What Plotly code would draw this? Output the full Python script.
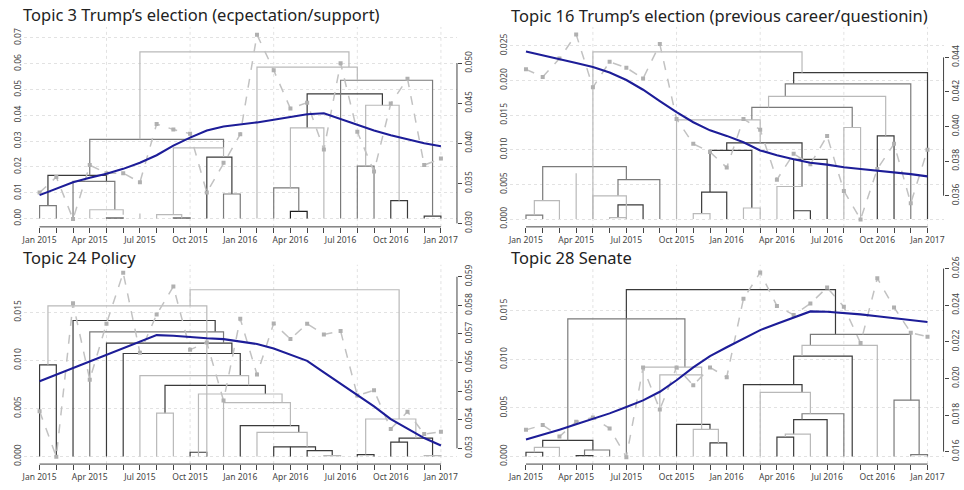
import plotly.graph_objects as go

# ---------------- data ----------------
MONTHS = ["Jan 2015", "Feb 2015", "Mar 2015", "Apr 2015", "May 2015", "Jun 2015",
          "Jul 2015", "Aug 2015", "Sep 2015", "Oct 2015", "Nov 2015", "Dec 2015",
          "Jan 2016", "Feb 2016", "Mar 2016", "Apr 2016", "May 2016", "Jun 2016",
          "Jul 2016", "Aug 2016", "Sep 2016", "Oct 2016", "Nov 2016", "Dec 2016",
          "Jan 2017"]
LABELLED_MONTHS = ["Jan 2015", "Apr 2015", "Jul 2015", "Oct 2015", "Jan 2016",
                   "Apr 2016", "Jul 2016", "Oct 2016", "Jan 2017"]

TITLES = ["Topic 3 Trump’s election (ecpectation/support)",
          "Topic 16 Trump’s election (previous career/questionin)",
          "Topic 24 Policy",
          "Topic 28 Senate"]

# monthly topic proportion (dashed grey) -- right axis
PROP_T3 = [.03384, .03578, .03053, .03727, .03626, .03626, .03513, .04240, .04172, .04119,
           .03384, .03756, .04111, .05356, .04911, .04434, .04507, .03921, .05000, .04143,
           .03646, .04495, .04806, .03727, .03808]
PROP_T16 = [.04331, .04287, .04393, .04533, .04227, .04374, .04340, .04278, .04477, .04044,
            .03900, .03853, .03763, .04044, .03982, .03693, .03843, .03782, .03946, .03628,
            .03463, .03755, .03900, .03557, .03866]
PROP_T24 = [.05430, .05271, .05807, .05540, .05736, .05914, .05634, .05768, .05866, .05645,
            .05670, .05467, .05753, .05558, .05737, .05682, .05736, .05698, .05710, .05485,
            .05503, .05368, .05428, .05350, .05358]
PROP_T28 = [.01719, .01745, .01683, .01763, .01786, .01727, .01570, .02060, .01830, .02060,
            .01963, .02060, .02007, .02435, .02579, .02396, .02347, .02409, .02497, .02391,
            .02193, .02547, .02388, .02250, .02228]

# smoothed trend (blue) -- right axis
TREND_T3 = [.03352, .03430, .03513, .03570, .03618, .03680, .03756, .03850, .03970, .04070,
            .04160, .04210, .04232, .04260, .04293, .04330, .04362, .04374, .04300, .04230,
            .04160, .04100, .04051, .04000, .03962]
TREND_T16 = [.04434, .04413, .04393, .04368, .04345, .04312, .04269, .04213, .04147, .04083,
             .04025, .03978, .03946, .03909, .03862, .03834, .03811, .03791, .03780, .03765,
             .03755, .03746, .03737, .03725, .03712]
TREND_T24 = [.05535, .05558, .05582, .05605, .05627, .05650, .05674, .05696, .05694, .05689,
             .05685, .05682, .05674, .05665, .05649, .05628, .05606, .05566, .05526, .05487,
             .05447, .05402, .05368, .05336, .05310]
TREND_T28 = [.01666, .01692, .01720, .01749, .01777, .01809, .01844, .01880, .01927, .01990,
             .02060, .02122, .02170, .02216, .02264, .02299, .02333, .02366, .02364, .02359,
             .02350, .02340, .02329, .02319, .02308]

# dendrogram merges: (left month, right month, merge height, left child height,
#                     right child height, tone) -- left axis
DEND_T3 = [
    (0, 1, .0050, 0, 0, "mid"), (0.5, 4, .0167, .0050, .0144, "dark"),
    (2, 4.5, .0144, 0, .0034, "mid"), (3, 5, .0034, 0, .0015, "light"),
    (4, 5, .0002, 0, 0, "black"), (3, 11, .0307, .0167, .0274, "mid"),
    (6, 6, .0019, 0, 0, "light"), (6, 18.5, .0646, .0307, .0587, "light"),
    (7, 8.5, .0015, 0, 0, "light"), (8, 9, .0002, 0, 0, "black"),
    (8, 11, .0274, .0015, .0238, "light"), (10, 11.5, .0238, 0, .0095, "dark"),
    (11, 12, .0095, 0, 0, "mid"), (13, 19, .0587, 0, .0536, "light"),
    (18, 23.5, .0536, 0, .0009, "mid"), (16, 20.5, .0483, .0351, .0439, "dark"),
    (15, 17, .0351, .0119, 0, "light"), (14, 15.5, .0119, 0, .0028, "mid"),
    (15, 16, .0028, 0, 0, "black"), (19.5, 21.5, .0439, .0203, .0069, "light"),
    (19, 20, .0203, 0, 0, "mid"), (21, 22, .0069, 0, 0, "dark"),
    (23, 24, .0009, 0, 0, "dark"),
]
DEND_T16 = [
    (0, 1, .00056, 0, 0, "mid"), (0.5, 2, .00266, .00056, 0, "light"),
    (1, 6, .00756, .00266, .0057, "mid"), (3, 3, .0066, 0, 0, "light"),
    (4, 6, .00336, 0, 0, "light"), (5, 6, .0002, 0, 0, "light"),
    (5.5, 7, .00205, .0002, 0, "dark"), (5.5, 8, .0057, .00336, 0, "mid"),
    (4, 16.5, .0241, 0, .0211, "light"), (10, 11, .0008, 0, 0, "light"),
    (10.5, 12, .0039, .0008, 0, "dark"), (11, 13.5, .0099, .0039, .0016, "dark"),
    (12, 16.5, .0110, .0099, .0047, "dark"), (13, 14, .0016, 0, 0, "light"),
    (15, 16.5, .0047, 0, .0086, "light"), (16, 18, .0086, .0012, 0, "dark"),
    (16, 17, .0012, 0, 0, "dark"), (9, 14, .0143, 0, .0110, "light"),
    (13.5, 19.5, .0161, .0143, .0132, "mid"), (19, 20, .0132, 0, 0, "light"),
    (14.5, 21.5, .0177, .0161, .0120, "light"), (21, 22, .0120, 0, 0, "dark"),
    (15.5, 23, .0195, .0177, 0, "mid"), (16, 24, .0211, .0195, 0, "dark"),
]
DEND_T24 = [
    (0, 1, .00953, 0, 0, "dark"), (0.5, 10, .01566, .00953, 0, "light"),
    (2, 10.5, .01414, 0, .01296, "dark"), (3, 11, .01296, 0, .01178, "mid"),
    (4, 11.5, .01178, 0, .01071, "dark"), (5, 12, .01071, 0, .0084, "dark"),
    (6, 12.5, .0084, 0, .0074, "light"), (7.5, 13.5, .0074, .0045, .0065, "dark"),
    (7, 8, .0045, 0, 0, "light"), (9.5, 14.5, .0065, 0, .0056, "light"),
    (11, 15, .0056, 0, .0032, "light"), (12, 15.5, .0032, 0, .0025, "dark"),
    (13, 16, .0025, 0, .0010, "light"), (14, 16.5, .0010, 0, .0006, "dark"),
    (15, 15, .0010, 0, 0, "dark"), (16, 17.5, .0006, 0, .0001, "dark"),
    (17, 18, .0001, 0, 0, "light"), (9, 10, .00044, 0, 0, "dark"),
    (9, 21.5, .01734, .01566, .0039, "light"), (19.5, 22.5, .0039, .0002, .0019, "light"),
    (19, 20, .0002, 0, 0, "dark"), (21.5, 23.5, .0019, .0015, 0, "dark"),
    (21, 22, .0015, 0, 0, "dark"), (23, 24, .0001, 0, 0, "light"),
]
DEND_T28 = [
    (0, 1, .00044, 0, 0, "dark"), (0.5, 2, .00094, .00044, 0, "light"),
    (1, 4, .00167, .00094, .00067, "dark"), (3, 4, .0001, 0, 0, "dark"),
    (3.5, 5, .00067, .0001, 0, "mid"), (2.5, 9.5, .01417, .00167, .0092, "mid"),
    (6, 18.5, .01717, .01417, .01257, "dark"), (6, 6, .01417, 0, 0, "mid"),
    (7, 10.5, .0092, 0, .0084, "light"), (8, 10.5, .0084, 0, .0028, "light"),
    (9, 11, .0033, 0, .0028, "dark"), (10, 11.5, .0028, 0, .0014, "light"),
    (11, 12, .0014, 0, 0, "dark"), (17, 23, .01257, .01144, .0058, "mid"),
    (16.5, 21, .01144, .01034, 0, "light"), (16, 19.5, .01034, .0074, 0, "dark"),
    (13, 16.5, .0074, 0, .0066, "dark"), (14, 17, .0066, 0, .0044, "light"),
    (16.5, 19, .0044, .0038, 0, "mid"), (16, 18, .0038, .0023, 0, "dark"),
    (15.5, 17, .0023, .0020, 0, "light"), (15, 16, .0020, 0, 0, "dark"),
    (22, 23.5, .0058, 0, .0002, "mid"), (23, 24, .0002, 0, 0, "mid"),
]

LEFT_TICKS = [[0, .01, .02, .03, .04, .05, .06, .07],
              [0, .005, .010, .015, .020, .025],
              [0, .005, .010, .015],
              [0, .005, .010, .015]]
LEFT_FMT = ["{:.2f}", "{:.3f}", "{:.3f}", "{:.3f}"]
RIGHT_TICKS = [[.030, .035, .040, .045, .050],
               [.036, .038, .040, .042, .044],
               [.053, .054, .055, .056, .057, .058, .059],
               [.016, .018, .020, .022, .024, .026]]

# ---------------- styling / layout ----------------
TONES = {"black": "#1e1e1e", "dark": "#3a3a3a", "mid": "#7a7a7a", "light": "#b9b9b9"}
FONT = "Noto Sans"
W, H = 964, 490

def px_x(a, b):
    return [a / W, b / W]

def px_y(top, bottom):
    return [1 - bottom / H, 1 - top / H]

XDOM = [px_x(21.6, 456.4), px_x(509.5, 944.5), px_x(21.6, 456.4), px_x(509.5, 944.5)]
YDOM = [px_y(19.5, 225.3), px_y(19.5, 225.3), px_y(264.3, 469.5), px_y(264.3, 469.5)]
LRANGE = [[-0.00324, 0.07426], [-0.00112, 0.02770], [-0.00079, 0.01994], [-0.00078, 0.01974]]
RRANGE = [[0.02956, 0.05452], [0.03420, 0.04576], [0.05245, 0.05942], [0.01532, 0.02621]]
TITLE_POS = [(19, 6.5), (509, 7.5), (19, 257), (509, 257)]
GRID_MONTHS = [4, 9, 14, 19, 24]

PROPS = [PROP_T3, PROP_T16, PROP_T24, PROP_T28]
TRENDS = [TREND_T3, TREND_T16, TREND_T24, TREND_T28]
DENDS = [DEND_T3, DEND_T16, DEND_T24, DEND_T28]

xidx = list(range(len(MONTHS)))
ticktext = [m if m in LABELLED_MONTHS else "" for m in MONTHS]

fig = go.Figure()
layout = dict(width=W, height=H, margin=dict(l=0, r=0, t=0, b=0),
              plot_bgcolor="white", paper_bgcolor="white", showlegend=False,
              font=dict(family=FONT, color="#333"))
shapes, annotations = [], []

for i in range(4):
    xa = "x" if i == 0 else f"x{i + 1}"
    yl = "y" if i == 0 else f"y{2 * i + 1}"
    yr = f"y{2 * i + 2}"
    xkey = "xaxis" if i == 0 else f"xaxis{i + 1}"
    ylkey = "yaxis" if i == 0 else f"yaxis{2 * i + 1}"
    yrkey = f"yaxis{2 * i + 2}"

    # dendrogram
    for tone, color in TONES.items():
        xs, ys = [], []
        for (xl, xr, h, lb, rb, t) in DENDS[i]:
            if t != tone:
                continue
            xs += [xl, xl, xr, xr, None]
            ys += [lb, h, h, rb, None]
        if xs:
            fig.add_trace(go.Scatter(x=xs, y=ys, xaxis=xa, yaxis=yl, mode="lines",
                                     line=dict(color=color, width=1.2),
                                     hoverinfo="skip", connectgaps=False))
    # proportion (dashed)
    fig.add_trace(go.Scatter(x=xidx, y=PROPS[i], xaxis=xa, yaxis=yr, mode="lines+markers",
                             line=dict(color="#c2c2c2", width=1.5, dash="dash"),
                             marker=dict(symbol="square", size=4, color="#b0b0b0")))
    # trend (blue)
    fig.add_trace(go.Scatter(x=xidx, y=TRENDS[i], xaxis=xa, yaxis=yr, mode="lines",
                             line=dict(color="#1d1d98", width=2.1)))

    tickfont = dict(family=FONT, size=8.5, color="#444")
    layout[xkey] = dict(domain=XDOM[i], range=[-0.96, 24.96], anchor=yl,
                        tickvals=xidx, ticktext=ticktext, tickangle=0,
                        ticks="outside", ticklen=5, tickcolor="#444", tickwidth=1,
                        showgrid=False, zeroline=False, showline=False, tickfont=tickfont)
    layout[ylkey] = dict(domain=YDOM[i], range=LRANGE[i], anchor=xa,
                         tickvals=LEFT_TICKS[i],
                         ticktext=[LEFT_FMT[i].format(v) for v in LEFT_TICKS[i]],
                         tickangle=-90, ticks="", showline=False, zeroline=False,
                         showgrid=True, gridcolor="#e2e2e2", griddash="dot", gridwidth=1,
                         tickfont=tickfont)
    layout[yrkey] = dict(overlaying=yl, side="right", anchor=xa, range=RRANGE[i],
                         tickvals=RIGHT_TICKS[i],
                         ticktext=["{:.3f}".format(v) for v in RIGHT_TICKS[i]],
                         tickangle=-90, ticks="outside", ticklen=4, tickcolor="#444",
                         showgrid=False, zeroline=False, showline=False, tickfont=tickfont)

    # bottom axis line spanning first..last month
    shapes.append(dict(type="line", xref=xa, yref=f"{yl} domain", x0=0, x1=len(MONTHS) - 1,
                       y0=0, y1=0, line=dict(color="#444", width=1)))
    # right axis line spanning the tick range
    shapes.append(dict(type="line", xref=f"{xa} domain", yref=yr, x0=1, x1=1,
                       y0=RIGHT_TICKS[i][0], y1=RIGHT_TICKS[i][-1],
                       line=dict(color="#444", width=1)))
    # vertical dotted grid
    for g in GRID_MONTHS:
        shapes.append(dict(type="line", xref=xa, yref=f"{yl} domain", x0=g, x1=g,
                           y0=0, y1=1, layer="below",
                           line=dict(color="#e2e2e2", width=1, dash="dot")))
    tx, ty = TITLE_POS[i]
    annotations.append(dict(text=TITLES[i], xref="paper", yref="paper", x=tx / W, y=1 - ty / H,
                            xanchor="left", yanchor="middle", showarrow=False,
                            font=dict(family=FONT, size=16.5, color="#222")))

layout["shapes"] = shapes
layout["annotations"] = annotations
fig.update_layout(**layout)
fig.write_html("out.html", config={"displayModeBar": False},
               post_script="document.body.style.margin='0';document.body.style.overflow='hidden';")
